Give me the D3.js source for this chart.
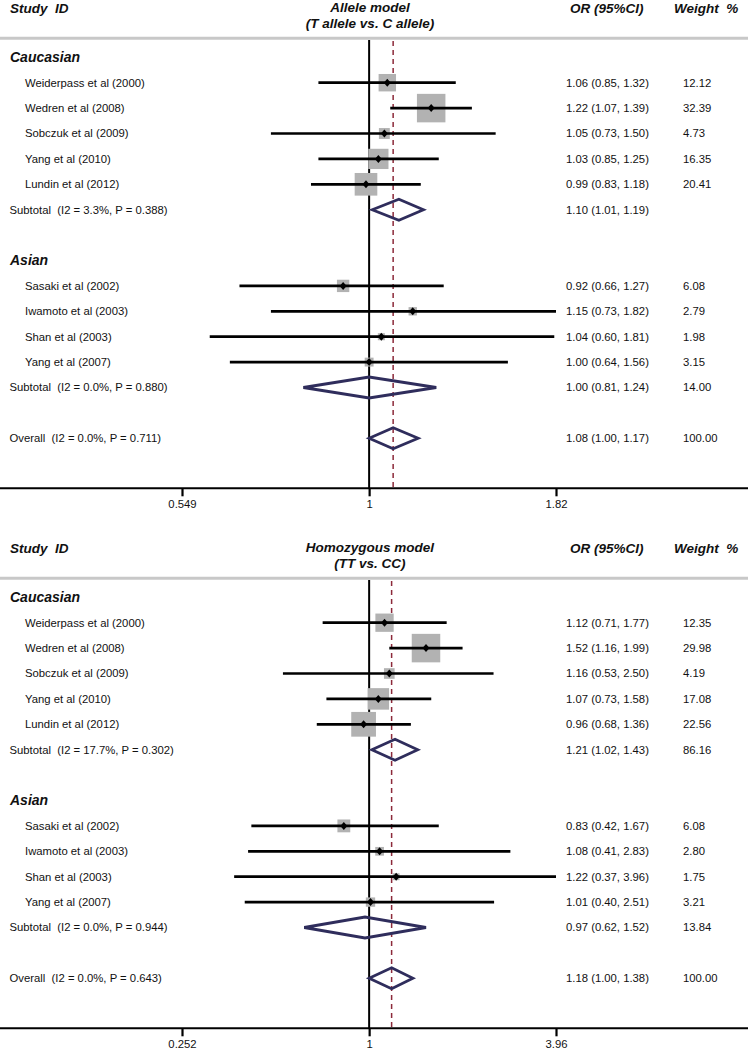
<!DOCTYPE html>
<html><head><meta charset="utf-8">
<script src="https://cdn.jsdelivr.net/npm/d3@7"></script>
<style>
body{margin:0;background:#fff;}
svg text{font-family:"Liberation Sans",Arial,sans-serif;fill:#111;white-space:pre;}
</style></head>
<body><div id="chart"></div>
<script>
// ---------- data ----------
const cauStudies = ["Weiderpass et al (2000)", "Wedren et al (2008)", "Sobczuk et al (2009)", "Yang et al (2010)", "Lundin et al (2012)"];
const asianStudies = ["Sasaki et al (2002)", "Iwamoto et al (2003)", "Shan et al (2003)", "Yang et al (2007)"];
const groupNames = ["Caucasian", "Asian"];

// Allele model (T allele vs. C allele)
const alleleCauOR = [1.06, 1.22, 1.05, 1.03, 0.99];
const alleleCauLo = [0.85, 1.07, 0.73, 0.85, 0.83];
const alleleCauHi = [1.32, 1.39, 1.50, 1.25, 1.18];
const alleleCauW  = [12.12, 32.39, 4.73, 16.35, 20.41];
const alleleAsiOR = [0.92, 1.15, 1.04, 1.00];
const alleleAsiLo = [0.66, 0.73, 0.60, 0.64];
const alleleAsiHi = [1.27, 1.82, 1.81, 1.56];
const alleleAsiW  = [6.08, 2.79, 1.98, 3.15];
// pooled: [OR, lo, hi, weight, label]
const alleleSubCau = [1.10, 1.01, 1.19, null, "Subtotal  (I2 = 3.3%, P = 0.388)"];
const alleleSubAsi = [1.00, 0.81, 1.24, 14.00, "Subtotal  (I2 = 0.0%, P = 0.880)"];
const alleleOverall = [1.08, 1.00, 1.17, 100.00, "Overall  (I2 = 0.0%, P = 0.711)"];
const alleleTicks = [0.549, 1, 1.82];
const alleleTickLabels = ["0.549", "1", "1.82"];
const alleleTitle = ["Allele model", "(T allele vs. C allele)"];

// Homozygous model (TT vs. CC)
const homoCauOR = [1.12, 1.52, 1.16, 1.07, 0.96];
const homoCauLo = [0.71, 1.16, 0.53, 0.73, 0.68];
const homoCauHi = [1.77, 1.99, 2.50, 1.58, 1.36];
const homoCauW  = [12.35, 29.98, 4.19, 17.08, 22.56];
const homoAsiOR = [0.83, 1.08, 1.22, 1.01];
const homoAsiLo = [0.42, 0.41, 0.37, 0.40];
const homoAsiHi = [1.67, 2.83, 3.96, 2.51];
const homoAsiW  = [6.08, 2.80, 1.75, 3.21];
const homoSubCau = [1.21, 1.02, 1.43, 86.16, "Subtotal  (I2 = 17.7%, P = 0.302)"];
const homoSubAsi = [0.97, 0.62, 1.52, 13.84, "Subtotal  (I2 = 0.0%, P = 0.944)"];
const homoOverall = [1.18, 1.00, 1.38, 100.00, "Overall  (I2 = 0.0%, P = 0.643)"];
const homoTicks = [0.252, 1, 3.96];
const homoTickLabels = ["0.252", "1", "3.96"];
const homoTitle = ["Homozygous model", "(TT vs. CC)"];

const headers = ["Study  ID", "OR (95%CI)", "Weight  %"];

// ---------- drawing ----------
const W = 748, H = 1050;
const svg = d3.select("#chart").append("svg").attr("width", W).attr("height", H);

const fmt = d3.format(".2f");
const ciText = (o, l, h) => `${fmt(o)} (${fmt(l)}, ${fmt(h)})`;

function panel(top, p) {
  const g = svg.append("g").attr("transform", `translate(0,${top})`);
  const x = d3.scaleLog().domain([p.ticks[0], p.ticks[2]]).range([182, 556]);
  const y = d3.scaleLinear().domain([0, 15]).range([57.3, 438.3]);
  const axisY = 488.3;
  const maxW = d3.max(p.cauW.concat(p.asiW));
  const sz = d3.scaleSqrt().domain([0, maxW]).range([0, 28.5]);

  // headers
  g.append("text").attr("x", 10).attr("y", 8).attr("dy", "0.35em")
    .style("font-size", "13.5px").style("font-weight", "bold").style("font-style", "italic").text(headers[0]);
  p.title.forEach((t, i) => g.append("text").attr("x", 370).attr("y", 7 + i * 16.3).attr("dy", "0.35em")
    .attr("text-anchor", "middle").style("font-size", "13.5px").style("font-weight", "bold").style("font-style", "italic").text(t));
  g.append("text").attr("x", 570).attr("y", 8).attr("dy", "0.35em")
    .style("font-size", "13.5px").style("font-weight", "bold").style("font-style", "italic").text(headers[1]);
  g.append("text").attr("x", 674).attr("y", 8).attr("dy", "0.35em")
    .style("font-size", "13.5px").style("font-weight", "bold").style("font-style", "italic").text(headers[2]);

  // separator
  g.append("line").attr("x1", 0).attr("x2", W).attr("y1", 38.3).attr("y2", 38.3)
    .attr("stroke", "#c8c8c8").attr("stroke-width", 3);

  // reference lines
  g.append("line").attr("x1", x(1)).attr("x2", x(1)).attr("y1", 40).attr("y2", axisY)
    .attr("stroke", "#000").attr("stroke-width", 2);
  g.append("line").attr("x1", x(p.overall[0])).attr("x2", x(p.overall[0])).attr("y1", 41).attr("y2", axisY)
    .attr("stroke", "#8c2a3a").attr("stroke-width", 1.5).attr("stroke-dasharray", "5,4");

  const rows = [];
  rows.push({type: "group", label: groupNames[0], r: 0});
  cauStudies.forEach((s, i) => rows.push({type: "study", label: s, r: 1 + i, or: p.cauOR[i], lo: p.cauLo[i], hi: p.cauHi[i], w: p.cauW[i]}));
  rows.push({type: "pool", label: p.subCau[4], r: 6, or: p.subCau[0], lo: p.subCau[1], hi: p.subCau[2], w: p.subCau[3]});
  rows.push({type: "group", label: groupNames[1], r: 8});
  asianStudies.forEach((s, i) => rows.push({type: "study", label: s, r: 9 + i, or: p.asiOR[i], lo: p.asiLo[i], hi: p.asiHi[i], w: p.asiW[i]}));
  rows.push({type: "pool", label: p.subAsi[4], r: 13, or: p.subAsi[0], lo: p.subAsi[1], hi: p.subAsi[2], w: p.subAsi[3]});
  rows.push({type: "pool", label: p.overall[4], r: 15, or: p.overall[0], lo: p.overall[1], hi: p.overall[2], w: p.overall[3]});

  rows.forEach(d => {
    const cy = y(d.r);
    if (d.type === "group") {
      g.append("text").attr("x", 10).attr("y", cy).attr("dy", "0.35em")
        .style("font-size", "14px").style("font-weight", "bold").style("font-style", "italic").text(d.label);
      return;
    }
    g.append("text").attr("x", d.type === "study" ? 25 : 9.5).attr("y", cy).attr("dy", "0.35em")
      .style("font-size", "11.3px").text(d.label);
    g.append("text").attr("x", 566).attr("y", cy).attr("dy", "0.35em")
      .style("font-size", "11.3px").text(ciText(d.or, d.lo, d.hi));
    if (d.w != null) g.append("text").attr("x", 683).attr("y", cy).attr("dy", "0.35em")
      .style("font-size", "11.3px").text(fmt(d.w));

    if (d.type === "study") {
      const s = sz(d.w);
      g.append("rect").attr("x", x(d.or) - s / 2).attr("y", cy - s / 2).attr("width", s).attr("height", s)
        .attr("fill", "#b2b2b2");
      g.append("line").attr("x1", x(d.lo)).attr("x2", x(d.hi)).attr("y1", cy).attr("y2", cy)
        .attr("stroke", "#000").attr("stroke-width", 2.7);
      const cx = x(d.or);
      g.append("path").attr("d", `M${cx - 3.5},${cy}L${cx},${cy - 4}L${cx + 3.5},${cy}L${cx},${cy + 4}Z`).attr("fill", "#000");
    } else {
      const h = 10.5;
      g.append("path")
        .attr("d", `M${x(d.lo)},${cy}L${x(d.or)},${cy - h}L${x(d.hi)},${cy}L${x(d.or)},${cy + h}Z`)
        .attr("fill", "none").attr("stroke", "#2f2d5c").attr("stroke-width", 2.8).attr("stroke-linejoin", "miter");
    }
  });

  // axis
  g.append("line").attr("x1", 0).attr("x2", W).attr("y1", axisY).attr("y2", axisY)
    .attr("stroke", "#000").attr("stroke-width", 2);
  const ax = g.append("g").attr("transform", `translate(0,${axisY})`)
    .call(d3.axisBottom(x).tickValues(p.ticks).tickFormat((d, i) => p.tickLabels[i]).tickSize(8).tickPadding(4));
  ax.select(".domain").remove();
  ax.selectAll(".tick line").attr("stroke", "#000").attr("stroke-width", 2.2);
  ax.selectAll(".tick text").attr("font-family", null).style("font-size", "11.3px").attr("fill", "#111");
}

panel(0, {cauOR: alleleCauOR, cauLo: alleleCauLo, cauHi: alleleCauHi, cauW: alleleCauW,
  asiOR: alleleAsiOR, asiLo: alleleAsiLo, asiHi: alleleAsiHi, asiW: alleleAsiW,
  subCau: alleleSubCau, subAsi: alleleSubAsi, overall: alleleOverall,
  ticks: alleleTicks, tickLabels: alleleTickLabels, title: alleleTitle});
panel(540, {cauOR: homoCauOR, cauLo: homoCauLo, cauHi: homoCauHi, cauW: homoCauW,
  asiOR: homoAsiOR, asiLo: homoAsiLo, asiHi: homoAsiHi, asiW: homoAsiW,
  subCau: homoSubCau, subAsi: homoSubAsi, overall: homoOverall,
  ticks: homoTicks, tickLabels: homoTickLabels, title: homoTitle});
</script></body></html>
